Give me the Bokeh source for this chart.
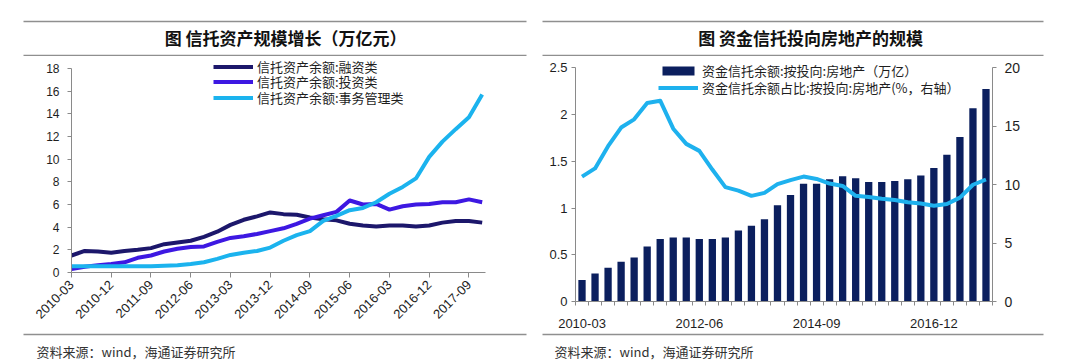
import math
from bokeh.plotting import figure
from bokeh.models import (Range1d, LinearAxis, FixedTicker, Legend, LegendItem,
                          Label, BoxAnnotation, CustomJSTickFormatter, ColumnDataSource)
from bokeh.layouts import row, column
from bokeh.embed import file_html
from bokeh.resources import INLINE

# ---------------- data ----------------
quarters = ["2010-03", "2010-06", "2010-09", "2010-12", "2011-03", "2011-06", "2011-09", "2011-12",
            "2012-03", "2012-06", "2012-09", "2012-12", "2013-03", "2013-06", "2013-09", "2013-12",
            "2014-03", "2014-06", "2014-09", "2014-12", "2015-03", "2015-06", "2015-09", "2015-12",
            "2016-03", "2016-06", "2016-09", "2016-12", "2017-03", "2017-06", "2017-09", "2017-12"]

# 信托资产余额 (万亿元)
rongzi = [1.5, 1.9, 1.85, 1.75, 1.9, 2.0, 2.15, 2.5, 2.65, 2.8, 3.15, 3.6, 4.2, 4.65, 4.95, 5.3,
          5.15, 5.1, 4.85, 4.7, 4.6, 4.3, 4.15, 4.05, 4.15, 4.15, 4.05, 4.15, 4.4, 4.55, 4.55, 4.4]
touzi = [0.3, 0.5, 0.65, 0.75, 0.9, 1.3, 1.5, 1.85, 2.1, 2.25, 2.3, 2.7, 3.05, 3.2, 3.4, 3.65,
         3.9, 4.3, 4.75, 5.05, 5.35, 6.35, 6.0, 6.05, 5.55, 5.85, 6.0, 6.05, 6.2, 6.2, 6.45, 6.2]
shiwu = [0.55, 0.55, 0.55, 0.55, 0.55, 0.55, 0.55, 0.6, 0.65, 0.75, 0.9, 1.2, 1.55, 1.75, 1.9, 2.2,
         2.8, 3.3, 3.65, 4.55, 5.0, 5.5, 5.7, 6.2, 6.95, 7.55, 8.3, 10.2, 11.55, 12.65, 13.7, 15.7]

# 资金信托投向房地产
re_amount = [0.23, 0.30, 0.36, 0.425, 0.47, 0.59, 0.67, 0.685, 0.685, 0.67, 0.67, 0.685, 0.76, 0.81,
             0.88, 1.03, 1.14, 1.26, 1.26, 1.31, 1.34, 1.32, 1.28, 1.28, 1.29, 1.31, 1.35, 1.43,
             1.57, 1.76, 2.07, 2.275]
re_share = [10.7, 11.4, 13.3, 14.9, 15.6, 17.0, 17.2, 14.8, 13.5, 12.9, 11.3, 9.8, 9.5, 9.05, 9.3,
            10.05, 10.4, 10.7, 10.5, 10.1, 9.9, 9.05, 8.95, 8.8, 8.7, 8.5, 8.4, 8.2, 8.35, 8.9,
            10.0, 10.45]

left_title = "图  信托资产规模增长（万亿元）"
right_title = "图  资金信托投向房地产的规模"
source_text = "资料来源：wind，海通证券研究所"
left_names = ["信托资产余额:融资类", "信托资产余额:投资类", "信托资产余额:事务管理类"]
right_names = ["资金信托余额:按投向:房地产（万亿）", "资金信托余额占比:按投向:房地产(%，右轴）"]
left_ticks = list(range(0, 32, 3))
right_ticks = [0, 9, 18, 27]

CJK = "Noto Sans CJK SC"
NUM = "Liberation Sans"
RULE = "#8f8f8f"
AX = "#8a8a8a"
TXT = "#1e1e1e"

W = 540
HH, CH, FH = 56, 276, 32   # header / chart / footer heights
idx = list(range(len(quarters)))


def plain_fig(h):
    p = figure(width=W, height=h, output_backend="svg", toolbar_location=None,
               x_range=Range1d(0, W), y_range=Range1d(0, h), min_border=0,
               x_axis_type=None, y_axis_type=None)
    p.outline_line_color = None
    p.xgrid.visible = False
    p.ygrid.visible = False
    p.background_fill_color = "white"
    p.border_fill_color = "white"
    return p


def rule(p, x0, x1, y):
    p.add_layout(BoxAnnotation(left=x0, right=x1, bottom=y - 0.8, top=y + 0.8,
                               fill_color=RULE, fill_alpha=1, line_color=None))


def header(x0, x1, title, cx):
    p = plain_fig(HH)
    rule(p, x0, x1, HH - 21)
    rule(p, x0, x1, HH - 55)
    p.add_layout(Label(x=cx, y=HH - 37, text=title, text_font=CJK, text_font_size="17px",
                       text_font_style="bold", text_align="center", text_baseline="middle",
                       text_color="#111111"))
    return p


def footer(x0, x1, tx):
    p = plain_fig(FH)
    rule(p, x0, x1, FH - 2)
    p.add_layout(Label(x=tx, y=FH - 19, text=source_text, text_font=CJK, text_font_size="13px",
                       text_align="left", text_baseline="middle", text_color="#333333"))
    return p


def chart_fig(bl, br, bt, bb, xr, yr):
    p = figure(width=W, height=CH, output_backend="svg", toolbar_location=None,
               x_range=xr, y_range=yr, min_border_left=bl, min_border_right=br,
               min_border_top=bt, min_border_bottom=bb)
    p.outline_line_color = None
    p.xgrid.visible = False
    p.ygrid.visible = False
    p.background_fill_color = "white"
    p.border_fill_color = "white"
    return p


def style_axis(ax, size="12px"):
    ax.axis_line_color = AX
    ax.major_tick_line_color = AX
    ax.minor_tick_line_color = AX
    ax.major_tick_in = 0
    ax.major_tick_out = 4
    ax.minor_tick_in = 0
    ax.minor_tick_out = 0
    ax.major_label_text_font = NUM
    ax.major_label_text_font_size = size
    ax.major_label_text_color = TXT


def one_legend(p, label, rend, loc, gh):
    p.add_layout(Legend(items=[LegendItem(label=label, renderers=[rend])],
                        location=loc, orientation="vertical", glyph_width=40, glyph_height=gh,
                        label_height=13, spacing=0, label_standoff=4, padding=0, margin=0,
                        border_line_alpha=0, background_fill_alpha=0,
                        label_text_font=CJK, label_text_font_size="13px",
                        label_text_color=TXT))


label_js = "const i = Math.round(tick); return (i >= 0 && i < labels.length) ? labels[i] : '';"

# ---------------- left chart ----------------
pl = chart_fig(71, 55, 0, 60, Range1d(0, 31.25), Range1d(0, 19.06))
src_l = ColumnDataSource(dict(x=idx, a=rongzi, b=touzi, c=shiwu))
r1 = pl.line("x", "a", source=src_l, line_color="#1c176b", line_width=4, line_join="round")
r2 = pl.line("x", "b", source=src_l, line_color="#3d18e2", line_width=4, line_join="round")
r3 = pl.line("x", "c", source=src_l, line_color="#1bb3ee", line_width=4, line_join="round")

style_axis(pl.yaxis[0])
pl.yaxis.ticker = FixedTicker(ticks=list(range(0, 19, 2)))
pl.yaxis.bounds = (0, 18)
pl.yaxis.major_label_standoff = 8
style_axis(pl.xaxis[0], "13px")
pl.xaxis.ticker = FixedTicker(ticks=left_ticks)
pl.xaxis.formatter = CustomJSTickFormatter(args=dict(labels=quarters), code=label_js)
pl.xaxis.major_label_orientation = math.pi / 4
pl.xaxis.major_tick_out = 5

one_legend(pl, left_names[0], r1, (142, 196), 13)
one_legend(pl, left_names[1], r2, (142, 181), 13)
one_legend(pl, left_names[2], r3, (142, 165), 13)

# ---------------- right chart ----------------
pr = chart_fig(35, 88, 0, 31, Range1d(-0.5, 31.5), Range1d(0, 2.623))
pr.extra_y_ranges = {"pct": Range1d(0, 20.984)}
src_r = ColumnDataSource(dict(x=idx, amt=re_amount, pct=re_share))
rb = pr.vbar(x="x", top="amt", width=0.56, source=src_r, fill_color="#0b1f5e", line_color=None)
rl = pr.line("x", "pct", source=src_r, y_range_name="pct", line_color="#1eb1ee", line_width=4,
             line_join="round")

style_axis(pr.yaxis[0], "13px")
pr.yaxis.ticker = FixedTicker(ticks=[0, 0.5, 1, 1.5, 2, 2.5])
pr.yaxis.formatter = CustomJSTickFormatter(code="return String(tick);")
pr.yaxis.bounds = (0, 2.5)
pr.yaxis.major_label_standoff = 4

ax_r = LinearAxis(y_range_name="pct", ticker=FixedTicker(ticks=[0, 5, 10, 15, 20]))
style_axis(ax_r, "14px")
ax_r.bounds = (0, 20)
ax_r.major_label_standoff = 8
pr.add_layout(ax_r, "right")

style_axis(pr.xaxis[0], "13px")
pr.xaxis.ticker = FixedTicker(ticks=right_ticks, minor_ticks=[k - 0.5 for k in range(33)])
pr.xaxis.formatter = CustomJSTickFormatter(args=dict(labels=quarters), code=label_js)
pr.xaxis.major_tick_out = 0
pr.xaxis.minor_tick_out = 4
pr.xaxis.major_label_standoff = 13

one_legend(pr, right_names[0], rb, (83, 221), 11)
one_legend(pr, right_names[1], rl, (83, 204), 11)

hl = header(23, 526, left_title, 287)
hr = header(2, 503, right_title, 272)
fl = footer(23, 526, 36)
fr = footer(2, 503, 14)

layout = column(row(hl, hr), row(column(pl), column(pr)), row(fl, fr))
open("out.html", "w").write(file_html(layout, INLINE))
